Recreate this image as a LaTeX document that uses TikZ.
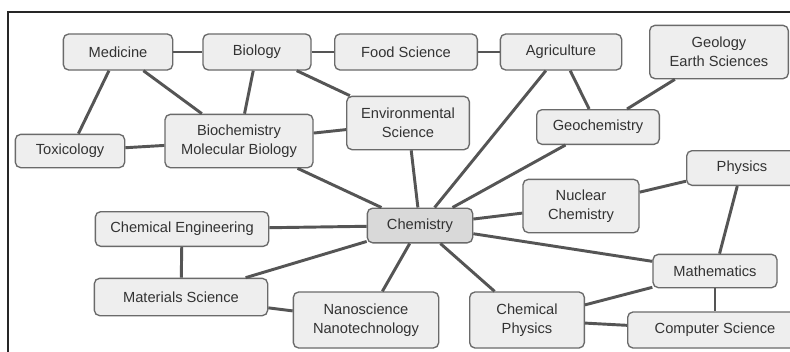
\documentclass[tikz,border=0pt]{standalone}
\usepackage{fontspec}
\setmainfont{Liberation Sans}
\usetikzlibrary{shapes, arrows.meta, positioning, calc}

\definecolor{boxfill}{HTML}{EEEEEE}
\definecolor{hubfill}{HTML}{D9D9D9}
\definecolor{boxline}{HTML}{6A6A6A}
\definecolor{linkline}{HTML}{555555}
\definecolor{labeltext}{HTML}{333333}

\begin{document}
\begin{tikzpicture}[x=0.75pt, y=-0.75pt,
    field/.style={rectangle, draw=boxline, line width=1pt, fill=#1, text=labeltext, align=center, rounded corners=4pt, inner sep=2pt, font=\fontsize{11}{14}\selectfont},
    field/.default=boxfill,
    link/.style={line width=2.2pt, draw=linkline}]

    \useasboundingbox (0,0) rectangle (790,351);
    \clip (0,0) rectangle (790,351);
    \fill [white] (0,0) rectangle (790,351);
    \draw [line width=1.9pt, draw=black!85] (8,12) rectangle (805,365);

    % top row
    \node [field, minimum width=82pt, minimum height=27pt] (medicine) at (118,52) {Medicine};
    \node [field, minimum width=81pt, minimum height=27pt] (biology) at (257,52) {Biology};
    \node [field, minimum width=107pt, minimum height=27pt] (food) at (406,52) {Food Science};
    \node [field, minimum width=91pt, minimum height=27pt] (agri) at (561,52) {Agriculture};
    \node [field, minimum width=104pt, minimum height=40pt] (geology) at (719,52) {Geology\\Earth Sciences};

    % second row
    \node [field, minimum width=82pt, minimum height=25pt] (toxic) at (70,151) {Toxicology};
    \node [field, minimum width=111pt, minimum height=40pt] (biochem) at (239,141) {Biochemistry\\Molecular Biology};
    \node [field, minimum width=92pt, minimum height=40pt] (envsci) at (408,123) {Environmental\\Science};
    \node [field, minimum width=92pt, minimum height=26pt] (geochem) at (598,127) {Geochemistry};
    \node [field, minimum width=83pt, minimum height=26pt] (physics) at (742,168) {Physics};

    % middle row
    \node [field=hubfill, minimum width=79pt, minimum height=26pt] (chem) at (420,225.5) {Chemistry};
    \node [field, minimum width=130pt, minimum height=26pt] (chemeng) at (182,229) {Chemical Engineering};
    \node [field, minimum width=87pt, minimum height=40pt] (nuclear) at (581,206) {Nuclear\\Chemistry};
    \node [field, minimum width=93pt, minimum height=25pt] (math) at (715,271) {Mathematics};

    % bottom row
    \node [field, minimum width=130pt, minimum height=28pt] (materials) at (181,297) {Materials Science};
    \node [field, minimum width=109pt, minimum height=42pt] (nano) at (366,320) {Nanoscience\\Nanotechnology};
    \node [field, minimum width=86pt, minimum height=42pt] (chemphys) at (527,320) {Chemical\\Physics};
    \node [field, minimum width=131pt, minimum height=27pt] (compsci) at (715,330) {Computer Science};

    \draw [link] (medicine) -- (biology);
    \draw [link] (biology) -- (food);
    \draw [link] (food) -- (agri);
    \draw [link] (medicine) -- (toxic);
    \draw [link] (medicine) -- (biochem);
    \draw [link] (biology) -- (biochem);
    \draw [link] (biology) -- (envsci);
    \draw [link] (toxic) -- (biochem);
    \draw [link] (biochem) -- (envsci);
    \draw [link] (biochem) -- (chem);
    \draw [link] (envsci) -- (chem);
    \draw [link] (agri) -- (chem);
    \draw [link] (agri) -- (geochem);
    \draw [link] (geochem) -- (geology);
    \draw [link] (geochem) -- (chem);
    \draw [link] (chem) -- (nuclear);
    \draw [link] (nuclear) -- (physics);
    \draw [link] (physics) -- (math);
    \draw [link] (chem) -- (math);
    \draw [link] (chem) -- (chemeng);
    \draw [link] (chem) -- (materials);
    \draw [link] (chem) -- (nano);
    \draw [link] (chem) -- (chemphys);
    \draw [link] (chemeng) -- (materials);
    \draw [link] (materials) -- (nano);
    \draw [link] (chemphys) -- (math);
    \draw [link] (chemphys) -- (compsci);
    \draw [link] (math) -- (compsci);
\end{tikzpicture}
\end{document}
